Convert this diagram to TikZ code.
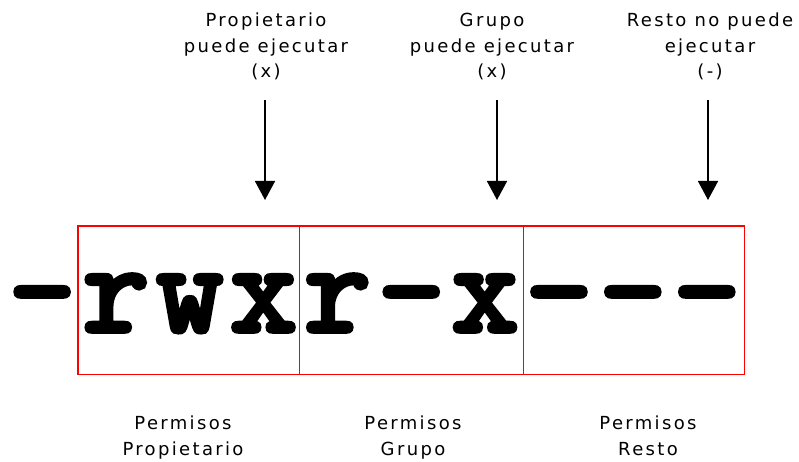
\documentclass[tikz,border=0pt]{standalone}
\usepackage{fontspec}
\usetikzlibrary{arrows.meta}
\newfontfamily\lblfont{DejaVu Sans}[LetterSpace=13]
\newfontfamily\bigfont{Latin Modern Mono}[FakeBold=4.5, LetterSpace=6.2]
\definecolor{boxred}{RGB}{255,0,0}
\tikzset{
  box/.style={minimum width=221pt, minimum height=148pt, inner sep=0pt, anchor=north west},
  redline/.style={draw=boxred, line width=1.4pt},
  lbl/.style={font=\lblfont\fontsize{18}{25.5}\selectfont, align=center, inner sep=0pt, text=black},
  arr/.style={-{Triangle[width=20pt,length=19pt]}, line width=1.6pt}
}
\begin{document}
\begin{tikzpicture}[x=1pt,y=1pt]
\useasboundingbox (0,0) rectangle (799,462);
\node[inner sep=0pt, anchor=base west, font=\bigfont\fontsize{128}{128}\selectfont] (perm) at (9,131) {-rwxr-x---};
\node[box] (b1) at (78,236) {};
\node[box, minimum width=224pt] (b2) at (299,236) {};
\node[box] (b3) at (523,236) {};
\draw[redline] (b1.north west) rectangle (b3.south east);
\draw[redline] (b1.north east) -- (b1.south east);
\draw[redline] (b2.north east) -- (b2.south east);
\node[lbl, anchor=north] (t1) at (266,449) {Propietario\\puede ejecutar\\(x)};
\node[lbl, anchor=north] (t2) at (492,449) {Grupo\\puede ejecutar\\(x)};
\node[lbl, anchor=north] (t3) at (710,449) {Resto no puede\\ejecutar\\(-)};
\coordinate (s1) at (265,362);
\coordinate (s2) at (497,362);
\coordinate (s3) at (708,362);
\coordinate (e1) at (265,262);
\coordinate (e2) at (497,262);
\coordinate (e3) at (708,262);
\draw[arr] (s1) -- (e1);
\draw[arr] (s2) -- (e2);
\draw[arr] (s3) -- (e3);
\node[lbl, anchor=north] (l1) at (183,46) {Permisos\\Propietario};
\node[lbl, anchor=north] (l2) at (413,46) {Permisos\\Grupo};
\node[lbl, anchor=north] (l3) at (648,46) {Permisos\\Resto};
\end{tikzpicture}
\end{document}
